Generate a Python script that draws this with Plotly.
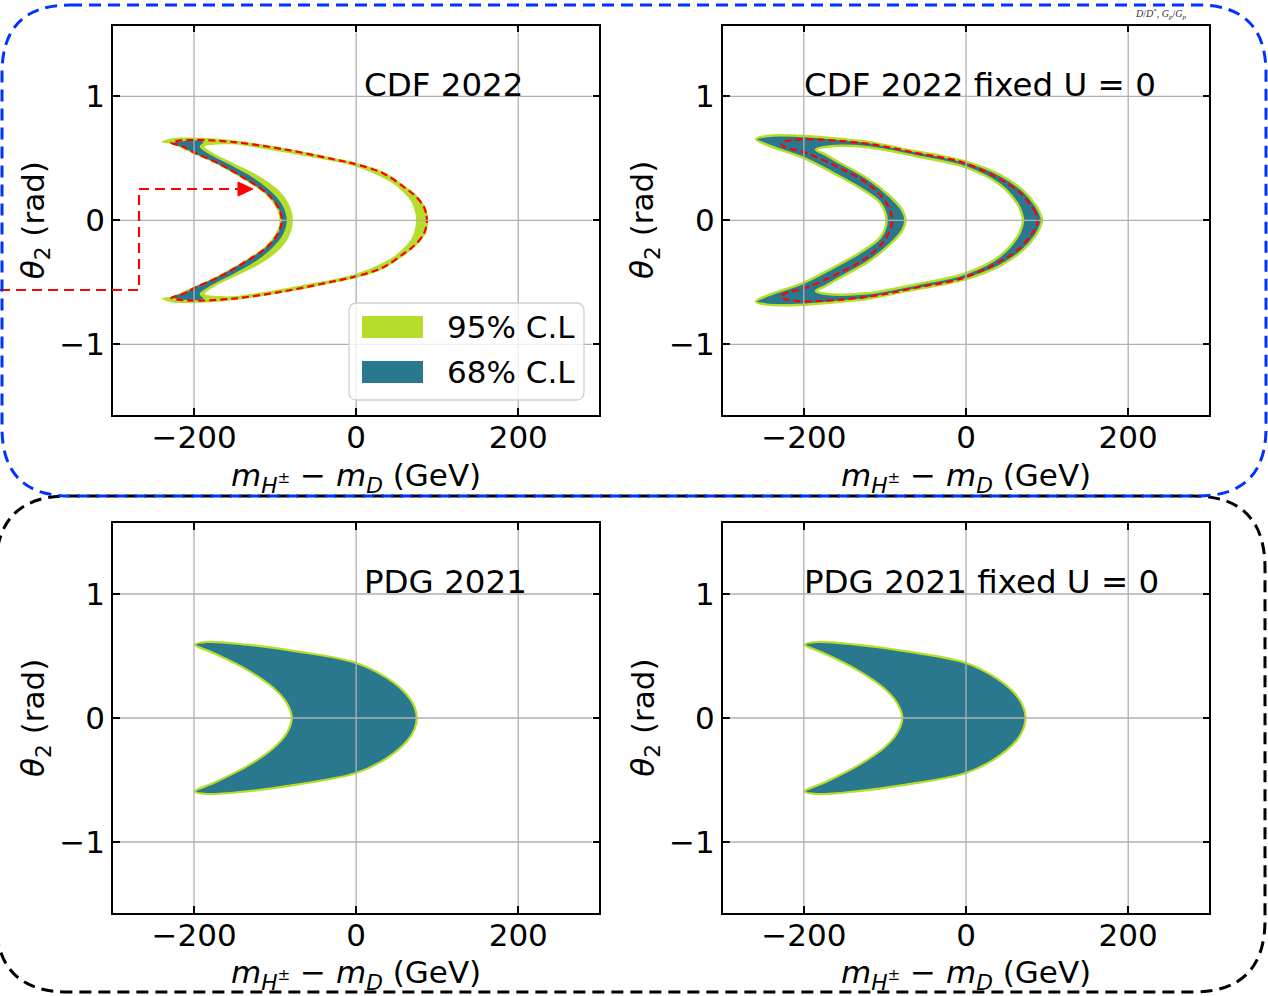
import plotly.graph_objects as go

W, H = 1268, 996
TEAL = "#2a788e"
GREEN = "#b5de2b"
RED = "#ff0000"
GRID = "#b0b0b0"
FONT = "DejaVu Sans"
FS = 31
FS_TITLE = 32.5

# ---------------- data ----------------
x_tick_vals = [-200, 0, 200]
x_tick_text = ["\u2212200", "0", "200"]
y_tick_vals = [-1, 0, 1]
y_tick_text = ["\u22121", "0", "1"]
x_range = [-300, 300]
y_range = [-1.5708, 1.5708]

panel_titles = ["CDF 2022", "CDF 2022 fixed U = 0", "PDG 2021", "PDG 2021 fixed U = 0"]
legend_labels = ["95% C.L", "68% C.L"]
x_title = "<i>m</i><sub><i>H</i><sup>\u00b1</sup></sub> \u2212 <i>m</i><sub><i>D</i></sub> (GeV)"
y_title = "<i>\u03b8</i><sub>2</sub> (rad)"

# Panel 1: CDF 2022 -- 95% C.L. envelope (outer boundary)
cdf_95_env_x = [89, 88, 84.5, 75, 63, 34, 0, -28, -90, -152, -195, -228, -240, -228, -202, -174.5,
                -141.5, -112.5, -98.5, -94.5, -98.5, -112.5, -141.5, -174.5, -202, -228, -240,
                -228, -195, -152, -90, -28, 0, 34, 63, 75, 84.5, 88, 89]
cdf_95_env_y = [0, 0.06, 0.12, 0.2, 0.265, 0.39, 0.465, 0.505, 0.585, 0.645, 0.665, 0.66, 0.63,
                0.615, 0.54, 0.46, 0.339, 0.212, 0.097, 0, -0.097, -0.212, -0.339, -0.46, -0.54,
                -0.615, -0.63, -0.66, -0.665, -0.645, -0.585, -0.505, -0.465, -0.39, -0.265,
                -0.2, -0.12, -0.06, 0]
# Panel 1: excluded interior (hole)
cdf_95_hole_x = [74, 72.5, 68, 56, 42, 0, -69, -131, -152, -180, -187, -176, -151.5, -118.5, -93.8,
                 -81.5, -78, -81.5, -93.8, -118.5, -151.5, -176, -187, -180, -152, -131, -69, 0,
                 42, 56, 68, 72.5, 74]
cdf_95_hole_y = [0, 0.07, 0.15, 0.24, 0.311, 0.432, 0.525, 0.595, 0.613, 0.607, 0.595, 0.54, 0.46,
                 0.352, 0.231, 0.11, 0, -0.11, -0.231, -0.352, -0.46, -0.54, -0.595, -0.607,
                 -0.613, -0.595, -0.525, -0.432, -0.311, -0.24, -0.15, -0.07, 0]
# Panel 1: 68% C.L. band
cdf_68_x = [-228, -214, -200, -188.5, -193, -183, -155, -124, -103, -90, -85.6, -90, -103, -124,
            -155, -183, -193, -188.5, -200, -214, -228, -212, -199.6, -172, -139, -110, -95.9,
            -91.9, -95.9, -110, -139, -172, -199.6, -212, -228]
cdf_68_y = [0.62, 0.638, 0.645, 0.63, 0.595, 0.54, 0.445, 0.33, 0.22, 0.11, 0, -0.11, -0.22,
            -0.33, -0.445, -0.54, -0.595, -0.63, -0.645, -0.638, -0.62, -0.585, -0.54, -0.46,
            -0.339, -0.212, -0.097, 0, 0.097, 0.212, 0.339, 0.46, 0.54, 0.585, 0.62]
# Panel 1: red dashed contour
cdf_red_x = [87.2, 86.2, 82.5, 73, 61, 33.7, 0, -28, -89.7, -151.5, -199.6, -222, -228, -214,
             -199.6, -172, -139, -110, -95.9, -91.9, -95.9, -110, -139, -172, -199.6, -214, -228,
             -222, -199.6, -151.5, -89.7, -28, 0, 33.7, 61, 73, 82.5, 86.2, 87.2]
cdf_red_y = [0, 0.06, 0.12, 0.196, 0.258, 0.378, 0.452, 0.492, 0.573, 0.631, 0.648, 0.638, 0.625,
             0.595, 0.545, 0.465, 0.344, 0.216, 0.099, 0, -0.099, -0.216, -0.344, -0.465, -0.545,
             -0.595, -0.625, -0.638, -0.648, -0.631, -0.573, -0.492, -0.452, -0.378, -0.258,
             -0.196, -0.12, -0.06, 0]

# Panel 2: CDF 2022 fixed U = 0
cdfu_env_x = [93.8, 91, 86, 71.1, 42.4, 0, -80.8, -122, -142.5, -199, -245, -259, -245, -199, -163,
              -130, -105.5, -98, -105.5, -130, -163, -199, -245, -259, -245, -199, -142.5, -122,
              -80.8, 0, 42.4, 71.1, 86, 91, 93.8]
cdfu_env_y = [0, 0.06, 0.12, 0.235, 0.365, 0.473, 0.58, 0.634, 0.648, 0.68, 0.68, 0.655, 0.607, 0.5,
              0.379, 0.258, 0.137, 0, -0.137, -0.258, -0.379, -0.5, -0.607, -0.655, -0.68, -0.68,
              -0.648, -0.634, -0.58, -0.473, -0.365, -0.235, -0.12, -0.06, 0]
cdfu_hole_x = [70.4, 68, 63, 42.4, 0, -60.3, -121.9, -171, -185, -175, -154.8, -121.9, -93.2, -78.7,
               -74.7, -78.7, -93.2, -121.9, -154.8, -175, -185, -171, -121.9, -60.3, 0, 42.4, 63,
               68, 70.4]
cdfu_hole_y = [0, 0.07, 0.137, 0.285, 0.427, 0.515, 0.589, 0.594, 0.57, 0.535, 0.46, 0.339, 0.19,
               0.083, 0, -0.083, -0.19, -0.339, -0.46, -0.535, -0.57, -0.594, -0.589, -0.515,
               -0.427, -0.285, -0.137, -0.07, 0]
cdfu_red_x = [88.4, 86, 80, 62.9, 0, -60.3, -121.9, -199, -222, -228, -224.6, -195.8, -154.8,
              -121.9, -99.3, -91.1, -99.3, -121.9, -154.8, -195.8, -224.6, -228, -222, -199,
              -121.9, -60.3, 0, 62.9, 80, 86, 88.4]
cdfu_red_y = [0, 0.06, 0.12, 0.244, 0.458, 0.542, 0.618, 0.653, 0.638, 0.618, 0.594, 0.54, 0.419,
              0.298, 0.15, 0, -0.15, -0.298, -0.419, -0.54, -0.594, -0.618, -0.638, -0.653,
              -0.618, -0.542, -0.458, -0.244, -0.12, -0.06, 0]

# Panel 3: PDG 2021
pdg_x = [74.9, 72, 62.6, 37.9, 0, -73.2, -135, -184.3, -198.8, -176, -135, -102, -85.6, -79.4, -85.6,
         -102, -135, -176, -198.8, -184.3, -135, -73.2, 0, 37.9, 62.6, 72, 74.9]
pdg_y = [0, 0.09, 0.188, 0.323, 0.444, 0.537, 0.591, 0.613, 0.591, 0.524, 0.39, 0.242, 0.121, 0,
         -0.121, -0.242, -0.39, -0.524, -0.591, -0.613, -0.591, -0.537, -0.444, -0.323, -0.188, -0.09, 0]
# Panel 4: PDG 2021 fixed U = 0
pdgu_x = [73.5, 70.6, 61.5, 37, 0, -73.5, -135, -184.3, -198.8, -176, -135, -101.5, -85, -78.5, -85,
          -101.5, -135, -176, -198.8, -184.3, -135, -73.5, 0, 37, 61.5, 70.6, 73.5]
pdgu_y = [0, 0.09, 0.188, 0.323, 0.444, 0.537, 0.591, 0.613, 0.591, 0.524, 0.39, 0.242, 0.121, 0,
          -0.121, -0.242, -0.39, -0.524, -0.591, -0.613, -0.591, -0.537, -0.444, -0.323, -0.188, -0.09, 0]

# ---------------- layout geometry (pixels) ----------------
COLS = [(113.0, 599.3), (722.7, 1209.3)]
ROWS = [(25.5, 415.1), (523.2, 912.8)]
SMOOTH = 1.0


def px(p):
    return p / W


def py(p):
    return 1 - p / H


fig = go.Figure()


def poly(xs, ys, ax, fill, line_color=None, line_width=0):
    fig.add_trace(go.Scatter(
        x=xs, y=ys, mode="lines", fill="toself", fillcolor=fill,
        line=dict(color=line_color or fill, width=line_width, shape="spline", smoothing=SMOOTH),
        xaxis="x" + ax, yaxis="y" + ax, hoverinfo="skip", showlegend=False))


def dashed(xs, ys, ax):
    fig.add_trace(go.Scatter(
        x=xs, y=ys, mode="lines",
        line=dict(color=RED, width=2.2, dash="7px,4px", shape="spline", smoothing=SMOOTH),
        xaxis="x" + ax, yaxis="y" + ax, hoverinfo="skip", showlegend=False))


# panel 1
poly(cdf_95_env_x, cdf_95_env_y, "", GREEN)
poly(cdf_95_hole_x, cdf_95_hole_y, "", "white")
poly(cdf_68_x, cdf_68_y, "", TEAL)
dashed(cdf_red_x, cdf_red_y, "")
# panel 2
poly(cdfu_env_x, cdfu_env_y, "2", TEAL, GREEN, 2.5)
poly(cdfu_hole_x, cdfu_hole_y, "2", "white", GREEN, 2.5)
dashed(cdfu_red_x, cdfu_red_y, "2")
# panels 3, 4
poly(pdg_x, pdg_y, "3", TEAL, GREEN, 2.2)
poly(pdgu_x, pdgu_y, "4", TEAL, GREEN, 2.2)

axis_common = dict(
    showline=True, linecolor="black", linewidth=1.6, mirror="ticks",
    ticks="inside", ticklen=7, tickwidth=1.6, tickcolor="black",
    showgrid=False, zeroline=False,
    tickfont=dict(family=FONT, size=FS, color="black"),
)

layout = dict(
    width=W, height=H, margin=dict(l=0, r=0, t=0, b=0),
    paper_bgcolor="white", plot_bgcolor="white", showlegend=False,
    font=dict(family=FONT, size=FS, color="black"),
)
shapes = []
annotations = []
names = ["", "2", "3", "4"]
for i, nm in enumerate(names):
    c = COLS[i % 2]
    r = ROWS[i // 2]
    layout["xaxis" + nm] = dict(axis_common, domain=[px(c[0]), px(c[1])], range=x_range,
                                tickvals=x_tick_vals, ticktext=x_tick_text,
                                anchor="y" + nm, ticklabelstandoff=-6)
    layout["yaxis" + nm] = dict(axis_common, domain=[py(r[1]), py(r[0])], range=y_range,
                                tickvals=y_tick_vals, ticktext=y_tick_text,
                                anchor="x" + nm, ticklabelstandoff=0)
    # grid lines drawn above the filled regions (as in the original)
    hfrac = 7 / (r[1] - r[0])
    wfrac = 7 / (c[1] - c[0])
    for xv in x_tick_vals:
        shapes.append(dict(type="line", xref="x" + nm, yref="y" + nm + " domain",
                           x0=xv, x1=xv, y0=hfrac, y1=1 - hfrac, layer="above",
                           line=dict(color=GRID, width=1.3)))
    for yv in y_tick_vals:
        shapes.append(dict(type="line", xref="x" + nm + " domain", yref="y" + nm,
                           x0=wfrac, x1=1 - wfrac, y0=yv, y1=yv, layer="above",
                           line=dict(color=GRID, width=1.3)))
    # axis titles
    annotations.append(dict(text=x_title, xref="paper", yref="paper",
                            x=px((c[0] + c[1]) / 2), y=py(r[1] + 62), showarrow=False,
                            xanchor="center", yanchor="middle",
                            font=dict(family=FONT, size=FS)))
    annotations.append(dict(text=y_title, xref="paper", yref="paper",
                            x=px(c[0] - 78), y=py((r[0] + r[1]) / 2), showarrow=False,
                            textangle=-90, xanchor="center", yanchor="middle",
                            font=dict(family=FONT, size=FS)))
    # panel titles
    tx = 365 if i % 2 == 0 else 805
    ty = 85 if i < 2 else 582
    annotations.append(dict(text=panel_titles[i], xref="paper", yref="paper",
                            x=px(tx - 3), y=py(ty), showarrow=False,
                            xanchor="left", yanchor="middle",
                            font=dict(family=FONT, size=FS_TITLE)))


def rrect(x0, y0, x1, y1, rr):
    # rounded rectangle path in paper coords from pixel values
    def P(a, b):
        return f"{px(a):.5f},{py(b):.5f}"
    return ("M " + P(x0 + rr, y0) + " L " + P(x1 - rr, y0) + " Q " + P(x1, y0) + " " + P(x1, y0 + rr) +
            " L " + P(x1, y1 - rr) + " Q " + P(x1, y1) + " " + P(x1 - rr, y1) +
            " L " + P(x0 + rr, y1) + " Q " + P(x0, y1) + " " + P(x0, y1 - rr) +
            " L " + P(x0, y0 + rr) + " Q " + P(x0, y0) + " " + P(x0 + rr, y0) + " Z")


# legend (manual, inside panel 1)
shapes.append(dict(type="path", xref="paper", yref="paper", path=rrect(349, 303, 584, 400, 8),
                   fillcolor="rgba(255,255,255,0.8)", line=dict(color="#d0d0d0", width=1.3),
                   layer="above"))
for k, (col, lab, yc) in enumerate([(GREEN, legend_labels[0], 327), (TEAL, legend_labels[1], 372)]):
    shapes.append(dict(type="rect", xref="paper", yref="paper",
                       x0=px(362), x1=px(423), y0=py(yc + 11), y1=py(yc - 11),
                       fillcolor=col, line=dict(width=0), layer="above"))
    annotations.append(dict(text=lab, xref="paper", yref="paper", x=px(445), y=py(yc),
                            showarrow=False, xanchor="left", yanchor="middle",
                            font=dict(family=FONT, size=FS)))

# red dashed pointer arrow
shapes.append(dict(type="path", xref="paper", yref="paper",
                   path=f"M {px(0)},{py(290)} L {px(139)},{py(290)} L {px(139)},{py(189)} L {px(240)},{py(189)}",
                   line=dict(color=RED, width=2.2, dash="10px,6px"), layer="above"))
shapes.append(dict(type="path", xref="paper", yref="paper",
                   path=f"M {px(238)},{py(182)} L {px(253)},{py(189)} L {px(238)},{py(196)} Z",
                   fillcolor=RED, line=dict(color=RED, width=1), layer="above"))

# dashed rounded boxes
shapes.append(dict(type="path", xref="paper", yref="paper", path=rrect(-4, 496, 1265, 992, 72),
                   line=dict(color="black", width=3, dash="12px,7px"), layer="above"))
shapes.append(dict(type="path", xref="paper", yref="paper", path=rrect(2, 5, 1266, 496, 68),
                   line=dict(color="#0033ff", width=3, dash="12px,7px"), layer="above"))

annotations.append(dict(text="<i>D</i>/<i>D</i><sup>*</sup>, <i>G<sub>p</sub></i>/<i>G<sub>p</sub></i>",
                        xref="paper", yref="paper", x=px(1161), y=py(14), showarrow=False,
                        xanchor="center", yanchor="middle",
                        font=dict(family="Liberation Serif", size=10, color="#333333")))

layout["shapes"] = shapes
layout["annotations"] = annotations
fig.update_layout(**layout)
fig.write_html("out.html")
